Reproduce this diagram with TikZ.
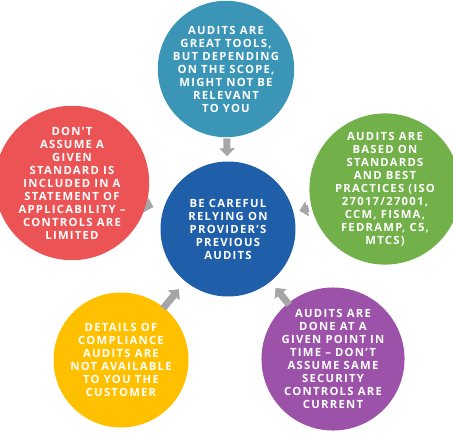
\documentclass[tikz,border=0pt]{standalone}
\usepackage{fontspec}
\setmainfont{Open Sans}
\newfontfamily\bubblefont{Open Sans}[LetterSpace=11]
\usetikzlibrary{arrows.meta}
\definecolor{cteal}{RGB}{58,149,182}
\definecolor{cred}{RGB}{236,83,85}
\definecolor{cgreen}{RGB}{114,176,74}
\definecolor{cblue}{RGB}{31,95,170}
\definecolor{cyellow}{RGB}{255,192,0}
\definecolor{cpurple}{RGB}{155,82,168}
\definecolor{arrowgray}{RGB}{166,166,166}
\begin{document}
\begin{tikzpicture}[x=1pt,y=-1pt,
  bubble/.style={circle, minimum size=135pt, inner sep=0pt, text=white, align=center,
    font=\bubblefont\bfseries\fontsize{11.3}{13}\selectfont},
  flow/.style={draw=arrowgray, line width=7pt, -{Triangle[width=15pt,length=8pt]}}]
\useasboundingbox (0,0) rectangle (453,432);
\node[bubble, fill=cteal] (top) at (226,69) {AUDITS ARE\\GREAT TOOLS,\\BUT DEPENDING\\ON THE SCOPE,\\MIGHT NOT BE\\RELEVANT\\TO YOU};
\node[bubble, fill=cblue] (mid) at (228,229) {BE CAREFUL\\RELYING ON\\PROVIDER’S\\PREVIOUS\\AUDITS};
\node[bubble, fill=cred] (left) at (72,183) {DON’T\\ASSUME A\\GIVEN\\STANDARD IS\\INCLUDED IN A\\STATEMENT OF\\APPLICABILITY –\\CONTROLS ARE\\LIMITED};
\node[bubble, fill=cgreen] (right) at (385,189) {AUDITS ARE\\BASED ON\\STANDARDS\\AND BEST\\PRACTICES (ISO\\27017/27001,\\CCM, FISMA,\\FEDRAMP, C5,\\MTCS)};
\node[bubble, fill=cyellow] (yel) at (121,360) {DETAILS OF\\COMPLIANCE\\AUDITS ARE\\NOT AVAILABLE\\TO YOU THE\\CUSTOMER};
\node[bubble, fill=cpurple] (pur) at (333,359) {AUDITS ARE\\DONE AT A\\GIVEN POINT IN\\TIME – DON’T\\ASSUME SAME\\SECURITY\\CONTROLS ARE\\CURRENT};
\draw[flow, shorten <=1pt, shorten >=5pt] (top) -- (mid);
\draw[flow, shorten <=2pt, shorten >=10pt] (left) -- (mid);
\draw[flow, shorten <=3pt, shorten >=6pt] (right) -- (mid);
\draw[flow, shorten <=-1pt, shorten >=10pt] (yel) -- (mid);
\draw[flow, shorten <=-2pt, shorten >=8pt] (pur) -- (mid);
\end{tikzpicture}
\end{document}
